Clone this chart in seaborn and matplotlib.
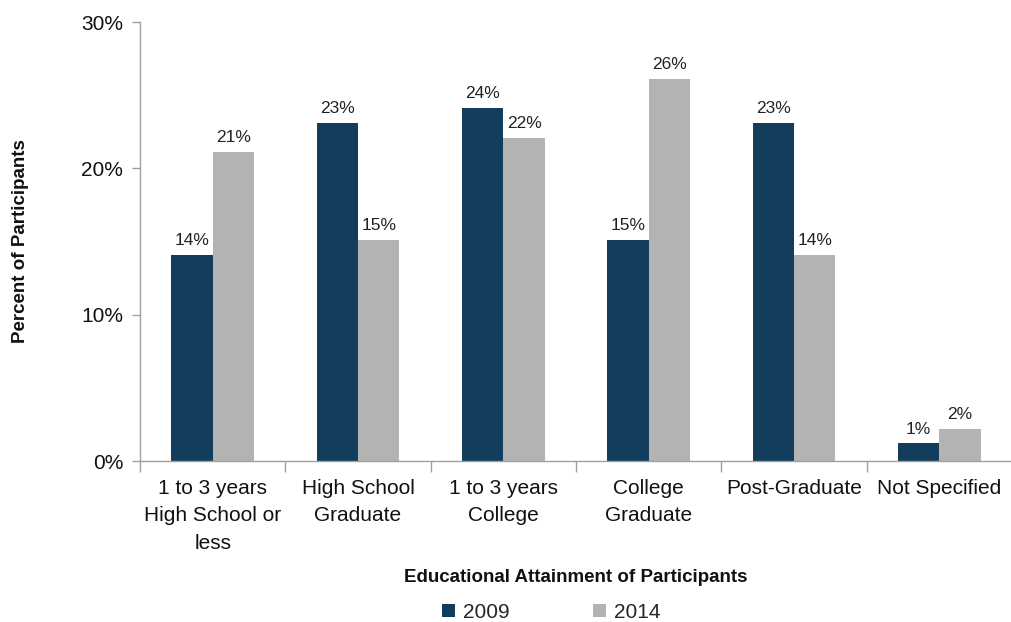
import pandas as pd
import seaborn as sns
import matplotlib.pyplot as plt
from matplotlib.ticker import FixedLocator, FuncFormatter

categories = ['1 to 3 years\nHigh School or\nless', 'High School\nGraduate', '1 to 3 years\nCollege',
              'College\nGraduate', 'Post-Graduate', 'Not Specified']
pct_2009 = [14.1, 23.1, 24.1, 15.1, 23.1, 1.2]
pct_2014 = [21.1, 15.1, 22.1, 26.1, 14.1, 2.2]
years = ['2009', '2014']

rows = []
for cat, a, b in zip(categories, pct_2009, pct_2014):
    rows.append({'Category': cat, 'Year': '2009', 'Percent': a})
    rows.append({'Category': cat, 'Year': '2014', 'Percent': b})
df = pd.DataFrame(rows)

sns.set_theme(style='white')
plt.rcParams['font.family'] = ['Liberation Sans', 'DejaVu Sans']

fig = plt.figure(figsize=(10.12, 6.22), dpi=100)
ax = fig.add_axes([0.1383, 0.2588, 0.8617, 0.7058])

palette = {'2009': '#123D5C', '2014': '#B3B3B3'}
sns.barplot(data=df, x='Category', y='Percent', hue='Year', hue_order=years, palette=palette,
            width=0.57, gap=0, saturation=1, linewidth=0, ax=ax, legend=True)

for cont in ax.containers:
    ax.bar_label(cont, labels=[f'{round(v)}%' for v in cont.datavalues], padding=5, fontsize=12.5, color='#222222')

ax.set_ylim(0, 30)
ax.set_xlim(-0.5, 5.5)
ax.set_yticks([0, 10, 20, 30])
ax.yaxis.set_major_formatter(FuncFormatter(lambda v, p: f'{int(v)}%'))
ax.tick_params(axis='y', length=6, width=1, color='#A0A0A0', labelsize=15, pad=6, left=True,
               direction='out', labelcolor='#111111')
ax.tick_params(axis='x', which='major', length=0, labelsize=15, pad=13, labelcolor='#111111')
for lbl in ax.get_xticklabels():
    lbl.set_linespacing(1.55)
ax.xaxis.set_minor_locator(FixedLocator([i + 0.5 for i in range(-1, 6)]))
ax.tick_params(axis='x', which='minor', length=8, width=1, color='#A0A0A0', bottom=True, direction='out')

for side in ['top', 'right']:
    ax.spines[side].set_visible(False)
for side in ['left', 'bottom']:
    ax.spines[side].set_color('#A0A0A0')
    ax.spines[side].set_linewidth(1)

ax.set_xlabel('Educational Attainment of Participants', fontsize=13.5, fontweight='bold', labelpad=12,
              color='#111111')
ax.set_ylabel('Percent of Participants', fontsize=13.5, fontweight='bold', labelpad=38, color='#111111')

ax.legend(loc='center', bbox_to_anchor=(0.545, 0.016), bbox_transform=fig.transFigure, ncol=2,
          frameon=False, fontsize=15, handlelength=0.6, handleheight=0.6, columnspacing=4.0, handletextpad=0.4)

fig.savefig('out.png', dpi=100)
